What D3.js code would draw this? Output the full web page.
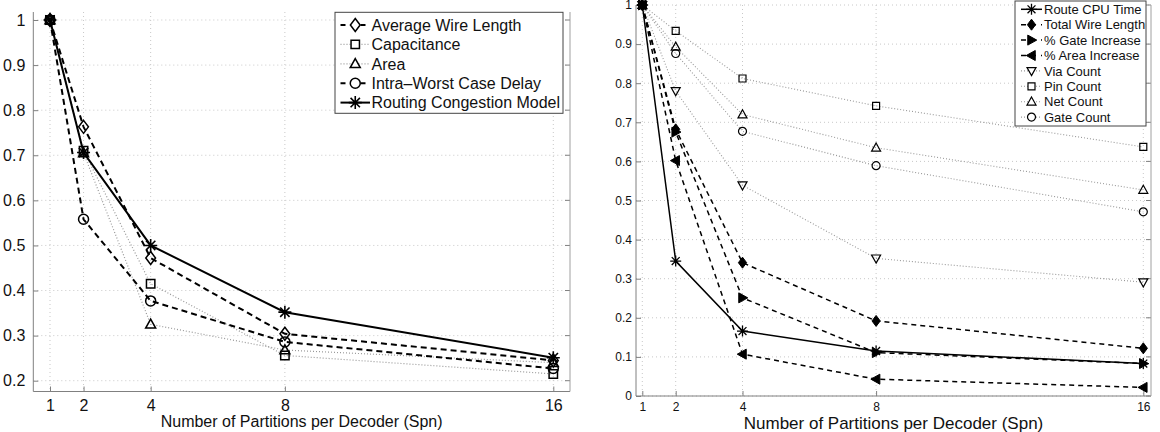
<!DOCTYPE html>
<html><head><meta charset="utf-8">
<script src="https://cdn.jsdelivr.net/npm/d3@7"></script>
<style>body{margin:0;background:#fff}svg{display:block}text{font-family:"Liberation Sans",Arial,Helvetica,sans-serif;fill:#111}</style>
</head><body>
<svg id="c" width="1160" height="432"></svg>
<script>
// ---------- DATA ----------
const xValues = [1, 2, 4, 8, 16];
const xTickLabels = ["1", "2", "4", "8", "16"];
const leftYTicks = [0.2, 0.3, 0.4, 0.5, 0.6, 0.7, 0.8, 0.9, 1];
const rightYTicks = [0, 0.1, 0.2, 0.3, 0.4, 0.5, 0.6, 0.7, 0.8, 0.9, 1];
const xLabel = "Number of Partitions per Decoder (Spn)";

const leftNames = ["Average Wire Length", "Capacitance", "Area", "Intra\u2013Worst Case Delay", "Routing Congestion Model"];
const avgWireLength     = [1, 0.763, 0.472, 0.304, 0.245];
const capacitance       = [1, 0.710, 0.415, 0.256, 0.215];
const areaValues        = [1, 0.705, 0.325, 0.268, 0.240];
const intraWorstDelay   = [1, 0.558, 0.377, 0.286, 0.227];
const routingCongestion = [1, 0.706, 0.500, 0.352, 0.251];

const rightNames = ["Route CPU Time", "Total Wire Length", "% Gate Increase", "% Area Increase", "Via Count", "Pin Count", "Net Count", "Gate Count"];
const routeCpuTime    = [1, 0.345, 0.166, 0.115, 0.083];
const totalWireLength = [1, 0.682, 0.341, 0.192, 0.122];
const gateIncrease    = [1, 0.675, 0.251, 0.111, 0.083];
const areaIncrease    = [1, 0.602, 0.107, 0.043, 0.022];
const viaCount        = [1, 0.780, 0.539, 0.352, 0.291];
const pinCount        = [1, 0.934, 0.812, 0.742, 0.637];
const netCount        = [1, 0.893, 0.720, 0.635, 0.527];
const gateCount       = [1, 0.876, 0.677, 0.589, 0.471];

// ---------- MARKERS ----------
function markerPath(type, r) {
  const p = d3.path();
  if (type === "diamond") { p.moveTo(0,-r); p.lineTo(r*0.75,0); p.lineTo(0,r); p.lineTo(-r*0.75,0); p.closePath(); }
  else if (type === "square") { p.rect(-r,-r,2*r,2*r); }
  else if (type === "triUp") { p.moveTo(0,-r*1.05); p.lineTo(r,r*0.75); p.lineTo(-r,r*0.75); p.closePath(); }
  else if (type === "triDown") { p.moveTo(0,r*1.05); p.lineTo(r,-r*0.75); p.lineTo(-r,-r*0.75); p.closePath(); }
  else if (type === "triRight") { p.moveTo(r*1.05,0); p.lineTo(-r*0.75,r); p.lineTo(-r*0.75,-r); p.closePath(); }
  else if (type === "triLeft") { p.moveTo(-r*1.05,0); p.lineTo(r*0.75,r); p.lineTo(r*0.75,-r); p.closePath(); }
  else if (type === "circle") { p.moveTo(r,0); p.arc(0,0,r,0,2*Math.PI); }
  else if (type === "star") { const k=r*0.72; p.moveTo(-r,0); p.lineTo(r,0); p.moveTo(0,-r); p.lineTo(0,r); p.moveTo(-k,-k); p.lineTo(k,k); p.moveTo(-k,k); p.lineTo(k,-k); }
  return p.toString();
}

const svg = d3.select("#c");

function drawPanel(cfg) {
  const g = svg.append("g");
  const x = d3.scaleLinear().domain([1, 16]).range(cfg.xr);
  const y = d3.scaleLinear().domain(cfg.yd).range(cfg.yr);
  const [L, R, T, B] = cfg.box;
  // grid
  g.append("g").selectAll("line").data(xValues).join("line")
    .attr("x1", d => x(d)).attr("x2", d => x(d)).attr("y1", T).attr("y2", B)
    .attr("stroke", "#c8c8c8").attr("stroke-width", 1).attr("stroke-dasharray", "1,3");
  g.append("g").selectAll("line").data(cfg.yTicks).join("line")
    .attr("x1", L).attr("x2", R).attr("y1", d => y(d)).attr("y2", d => y(d))
    .attr("stroke", "#c8c8c8").attr("stroke-width", 1).attr("stroke-dasharray", "1,3");
  // axes via d3 axis
  const xa = d3.axisBottom(x).tickValues(xValues).tickFormat((d,i) => xTickLabels[i]).tickSizeInner(-5).tickSizeOuter(0).tickPadding(cfg.xPad);
  const ya = d3.axisLeft(y).tickValues(cfg.yTicks).tickFormat(d => String(+d.toFixed(1))).tickSizeInner(-5).tickSizeOuter(0).tickPadding(cfg.yPad);
  const gx = g.append("g").attr("transform", `translate(0,${B})`).call(xa);
  const gy = g.append("g").attr("transform", `translate(${L},0)`).call(ya);
  [gx, gy].forEach(a => {
    a.select(".domain").remove();
    a.selectAll(".tick line").attr("stroke", "#808080");
    a.selectAll(".tick text").style("font-size", cfg.tickFont + "px").attr("fill", "#111").style("font-family", '"Liberation Sans",Arial,sans-serif');
  });
  // right-side ticks
  g.append("g").selectAll("line").data(cfg.yTicks).join("line")
    .attr("x1", R).attr("x2", R - 5).attr("y1", d => y(d)).attr("y2", d => y(d)).attr("stroke", "#808080");
  g.append("line").attr("x1", L).attr("x2", R).attr("y1", B).attr("y2", B).attr("stroke", "#808080");
  g.append("line").attr("x1", L).attr("x2", L).attr("y1", T).attr("y2", B).attr("stroke", "#808080");
  g.append("line").attr("x1", R).attr("x2", R).attr("y1", T).attr("y2", B).attr("stroke", "#a0a0a0");
  // series
  const line = d3.line().x((d,i) => x(xValues[i])).y(d => y(d));
  cfg.series.forEach(s => {
    g.append("path").attr("d", line(s.v)).attr("fill", "none")
      .attr("stroke", s.lc).attr("stroke-width", s.lw).attr("stroke-dasharray", s.dash);
  });
  cfg.series.forEach(s => {
    g.append("g").selectAll("path").data(s.v).join("path")
      .attr("transform", (d,i) => `translate(${x(xValues[i])},${y(d)})`)
      .attr("d", markerPath(s.m, s.mr))
      .attr("fill", s.fill ? "#000" : "none").attr("stroke", "#000").attr("stroke-width", s.mw);
  });
  // x label
  g.append("text").attr("x", (L + R) / 2).attr("y", cfg.labelY).attr("text-anchor", "middle")
    .style("font-size", cfg.labelFont + "px").text(xLabel);
  // legend
  const lg = cfg.legend;
  g.append("rect").attr("x", lg.x).attr("y", lg.y).attr("width", lg.w).attr("height", lg.h)
    .attr("fill", "#fff").attr("stroke", "#444").attr("stroke-width", 1);
  cfg.series.forEach((s, i) => {
    const cy = lg.y0 + i * lg.dy;
    g.append("line").attr("x1", lg.lx0).attr("x2", lg.lx1).attr("y1", cy).attr("y2", cy)
      .attr("stroke", s.lc).attr("stroke-width", s.lw).attr("stroke-dasharray", s.legDash || s.dash);
    g.append("path").attr("transform", `translate(${(lg.lx0 + lg.lx1) / 2},${cy})`).attr("d", markerPath(s.m, s.mr))
      .attr("fill", s.fill ? "#000" : "#fff").attr("stroke", "#000").attr("stroke-width", s.mw);
    g.append("text").attr("x", lg.tx).attr("y", cy).attr("dy", "0.36em").style("font-size", lg.font + "px").text(cfg.names[i]);
  });
}

drawPanel({
  xr: [50, 553.3], yd: [0.2, 1], yr: [380.7, 20], box: [33.3, 570, 12, 391.5],
  yTicks: leftYTicks, tickFont: 16, xPad: 8, yPad: 8, labelY: 427, labelFont: 16,
  names: leftNames,
  series: [
    { v: avgWireLength, m: "diamond", mr: 6.5, lc: "#000", lw: 2, dash: "6,4", legDash: "5,5", mw: 1.5 },
    { v: capacitance, m: "square", mr: 4.2, lc: "#999", lw: 1.2, dash: "1,2", mw: 1.5 },
    { v: areaValues, m: "triUp", mr: 5, lc: "#999", lw: 1.2, dash: "1,2", mw: 1.5 },
    { v: intraWorstDelay, m: "circle", mr: 5, lc: "#000", lw: 2, dash: "6,4", legDash: "5,5", mw: 1.5 },
    { v: routingCongestion, m: "star", mr: 6.5, lc: "#000", lw: 2, dash: null, mw: 1.6 }
  ],
  legend: { x: 335, y: 12.3, w: 228, h: 101, y0: 25, dy: 19.4, lx0: 340.5, lx1: 370, tx: 371.5, font: 16 }
});

drawPanel({
  xr: [642.3, 1143.3], yd: [0, 1], yr: [396, 5], box: [636, 1151, 5, 396],
  yTicks: rightYTicks, tickFont: 12, xPad: 6, yPad: 4, labelY: 429, labelFont: 17,
  names: rightNames,
  series: [
    { v: routeCpuTime, m: "star", mr: 5.5, lc: "#000", lw: 1.5, dash: null, mw: 1.3 },
    { v: totalWireLength, m: "diamond", mr: 5.5, lc: "#000", lw: 1.5, dash: "5,4", legDash: "5,5", mw: 1, fill: true },
    { v: gateIncrease, m: "triRight", mr: 5, lc: "#000", lw: 1.5, dash: "5,4", legDash: "5,5", mw: 1, fill: true },
    { v: areaIncrease, m: "triLeft", mr: 5, lc: "#000", lw: 1.5, dash: "5,4", legDash: "5,5", mw: 1, fill: true },
    { v: viaCount, m: "triDown", mr: 4.5, lc: "#999", lw: 1.1, dash: "1,2", mw: 1.2 },
    { v: pinCount, m: "square", mr: 3.5, lc: "#999", lw: 1.1, dash: "1,2", mw: 1.2 },
    { v: netCount, m: "triUp", mr: 4.5, lc: "#999", lw: 1.1, dash: "1,2", mw: 1.2 },
    { v: gateCount, m: "circle", mr: 4, lc: "#999", lw: 1.1, dash: "1,2", mw: 1.2 }
  ],
  legend: { x: 1015, y: 1, w: 131, h: 125, y0: 9.3, dy: 15.4, lx0: 1021, lx1: 1042, tx: 1044, font: 13 }
});
</script>
</body></html>
